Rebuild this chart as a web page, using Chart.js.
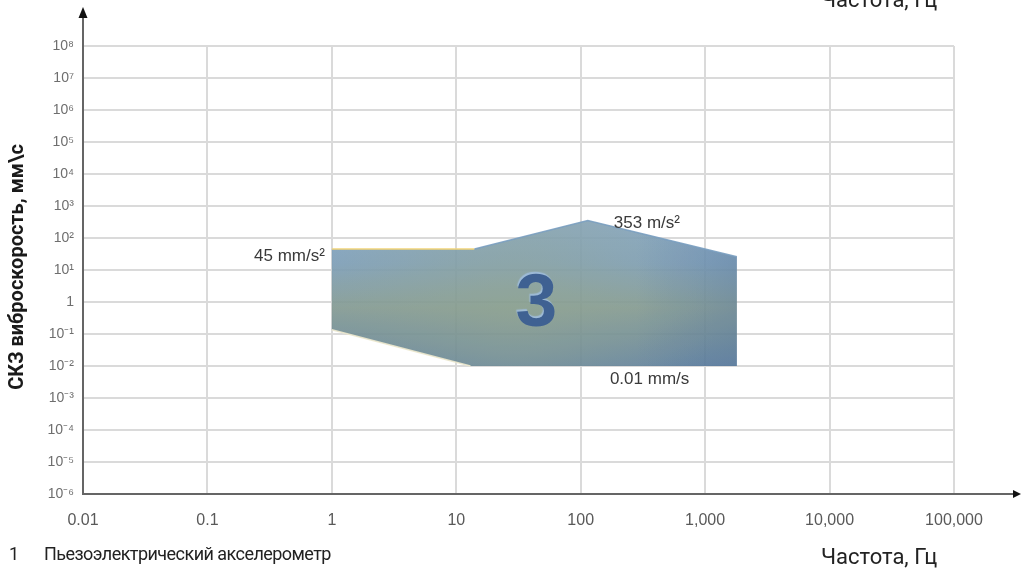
<!DOCTYPE html>
<html lang="ru">
<head>
<meta charset="utf-8">
<title>СКЗ виброскорость — частотный диапазон</title>
<script src="https://cdn.jsdelivr.net/npm/chart.js@4.4.1/dist/chart.umd.min.js"></script>
<style>
  html, body { margin: 0; padding: 0; background: #ffffff; }
  canvas { display: block; }
</style>
</head>
<body>
<canvas id="chart" width="1021" height="571"></canvas>
<script>
// Frequency decades (Hz) and their printed labels
const freqTicks = [0.01, 0.1, 1, 10, 100, 1000, 10000, 100000];
const freqTickLabels = ['0.01', '0.1', '1', '10', '100', '1,000', '10,000', '100,000'];

// Velocity decades (mm/s) and their printed labels
const velTicks = [1e-6, 1e-5, 1e-4, 1e-3, 1e-2, 1e-1, 1, 1e1, 1e2, 1e3, 1e4, 1e5, 1e6, 1e7, 1e8];
const velTickLabels = ['10⁻⁶', '10⁻⁵', '10⁻⁴', '10⁻³', '10⁻²', '10⁻¹', '1',
                       '10¹', '10²', '10³', '10⁴', '10⁵', '10⁶', '10⁷', '10⁸'];

// Upper limit of the measuring range: frequency (Hz) / velocity (mm/s)
const upperFreq = [1, 14, 114, 1800];
const upperVel  = [45, 45, 353, 26];

// Lower limit of the measuring range
const lowerFreq = [1, 13, 1800];
const lowerVel  = [0.136, 0.01, 0.01];

// Limit annotations and zone number
const limitLabels = ['45 mm/s²', '353 m/s²', '0.01 mm/s'];
const zoneLabel = '3';

// Captions
const yTitle = 'СКЗ виброскорость, мм\\с';
const xTitle = 'Частота, Гц';
const sensorNo = '1';
const sensorName = 'Пьезоэлектрический акселерометр';

const SANS = '"Liberation Sans", Arial, sans-serif';
const CAPTION = 'Roboto, "Open Sans", sans-serif';

// Closed outline of the zone: along the upper limit, then back along the lower one
function zoneOutline() {
  const up = upperFreq.map((f, i) => ({ x: f, y: upperVel[i] }));
  const low = lowerFreq.map((f, i) => ({ x: f, y: lowerVel[i] })).reverse();
  return up.concat(low);
}
const EDGE_TOP_FLAT = 0;
const EDGE_TOP_RISE = 1;
const EDGE_TOP_FALL = 2;
const EDGE_LOW_SLOPE = upperFreq.length + lowerFreq.length - 2;

// Shaded fill of the zone: soft blue with a greenish core, darker at the bottom/right
let fillCache = null;
function zoneFill(context) {
  const chart = context.chart;
  const { chartArea, scales } = chart;
  if (!chartArea || !scales.x || !scales.y) return 'rgba(128,155,170,0.9)';
  const key = [chart.width, chart.height, chartArea.left, chartArea.top, chartArea.right, chartArea.bottom].join(',');
  if (fillCache && fillCache.key === key) return fillCache.pattern;

  const sx = scales.x, sy = scales.y;
  const x0 = sx.getPixelForValue(Math.min(...upperFreq));
  const x1 = sx.getPixelForValue(Math.max(...upperFreq));
  const y0 = sy.getPixelForValue(Math.max(...upperVel));
  const y1 = sy.getPixelForValue(Math.min(...lowerVel));

  const off = document.createElement('canvas');
  off.width = chart.width;
  off.height = chart.height;
  const g = off.getContext('2d');

  const lin = g.createLinearGradient(0, y0, 0, y1);
  lin.addColorStop(0.0, '#84a5c3');
  lin.addColorStop(0.3, '#7d9eb9');
  lin.addColorStop(0.6, '#839a93');
  lin.addColorStop(1.0, '#5f80a0');
  g.fillStyle = lin;
  g.fillRect(0, 0, off.width, off.height);

  const cx = x0 + (x1 - x0) * 0.45, cy = y0 + (y1 - y0) * 0.6;
  const rad = g.createRadialGradient(cx, cy, 0, cx, cy, (x1 - x0) * 0.5);
  rad.addColorStop(0, 'rgba(140,160,136,0.55)');
  rad.addColorStop(1, 'rgba(140,160,136,0)');
  g.fillStyle = rad;
  g.fillRect(0, 0, off.width, off.height);

  const side = g.createLinearGradient(x0, 0, x1, 0);
  side.addColorStop(0.0, 'rgba(70,105,145,0)');
  side.addColorStop(0.75, 'rgba(70,105,145,0)');
  side.addColorStop(1.0, 'rgba(70,105,145,0.35)');
  g.fillStyle = side;
  g.fillRect(0, 0, off.width, off.height);

  // slight transparency so the grid shows through
  g.globalCompositeOperation = 'destination-in';
  g.fillStyle = 'rgba(0,0,0,0.93)';
  g.fillRect(0, 0, off.width, off.height);

  const pattern = chart.ctx.createPattern(off, 'no-repeat');
  fillCache = { key, pattern };
  return pattern;
}

function edgeColor(c) {
  const i = c.p0DataIndex;
  if (i === EDGE_TOP_FLAT) return '#f2d47a';
  if (i === EDGE_TOP_RISE || i === EDGE_TOP_FALL) return 'rgba(122,158,192,0.9)';
  if (i === EDGE_LOW_SLOPE) return 'rgba(236,232,205,0.9)';
  return 'rgba(0,0,0,0)';
}

// Axes with arrowheads, limit labels, zone number and captions
const overlayPlugin = {
  id: 'overlay',
  afterDatasetsDraw(chart) {
    const { ctx, chartArea: a, scales: { x, y } } = chart;
    ctx.save();

    // axis lines
    ctx.strokeStyle = '#656565';
    ctx.lineWidth = 2;
    ctx.beginPath();
    ctx.moveTo(a.left, a.bottom + 1);
    ctx.lineTo(a.left, 16);
    ctx.stroke();
    ctx.beginPath();
    ctx.moveTo(a.left - 1, a.bottom);
    ctx.lineTo(chart.width - 6, a.bottom);
    ctx.stroke();

    // arrowheads
    ctx.fillStyle = '#111111';
    ctx.beginPath();
    ctx.moveTo(a.left, 7);
    ctx.lineTo(a.left - 4.5, 18);
    ctx.lineTo(a.left + 4.5, 18);
    ctx.closePath();
    ctx.fill();
    ctx.beginPath();
    ctx.moveTo(chart.width, a.bottom);
    ctx.lineTo(chart.width - 8, a.bottom - 4);
    ctx.lineTo(chart.width - 8, a.bottom + 4);
    ctx.closePath();
    ctx.fill();

    // limit labels
    ctx.font = '17px ' + SANS;
    ctx.fillStyle = '#3a3a3a';
    ctx.textBaseline = 'alphabetic';
    const xl = x.getPixelForValue(upperFreq[0]);
    const yl = y.getPixelForValue(upperVel[0]);
    ctx.textAlign = 'right';
    ctx.fillText(limitLabels[0], xl - 7, yl + 12);

    const xp = x.getPixelForValue(upperFreq[2]);
    const yp = y.getPixelForValue(upperVel[2]);
    ctx.textAlign = 'left';
    ctx.fillText(limitLabels[1], xp + 26, yp + 8);

    const xb = x.getPixelForValue(lowerFreq[2]);
    const yb = y.getPixelForValue(lowerVel[2]);
    ctx.fillText(limitLabels[2], xb - 127, yb + 18);

    // zone number
    const zx = (x.getPixelForValue(upperFreq[0]) + x.getPixelForValue(upperFreq[3])) / 2 + 2;
    const zy = (y.getPixelForValue(upperVel[0]) + y.getPixelForValue(lowerVel[1])) / 2 + 18;
    ctx.font = 'bold 75px ' + SANS;
    ctx.textAlign = 'center';
    ctx.shadowColor = 'rgba(160,190,222,0.9)';
    ctx.shadowOffsetX = -1;
    ctx.shadowOffsetY = -1.5;
    ctx.shadowBlur = 1;
    ctx.fillStyle = '#3f6192';
    ctx.fillText(zoneLabel, zx, zy);
    ctx.shadowColor = 'transparent';

    // y-axis caption
    ctx.save();
    ctx.translate(18, 267);
    ctx.rotate(-Math.PI / 2);
    ctx.font = 'bold 20px ' + CAPTION;
    ctx.fillStyle = '#1a1a1a';
    ctx.textAlign = 'center';
    ctx.textBaseline = 'middle';
    ctx.fillText(yTitle, 0, 0);
    ctx.restore();

    // bottom captions
    ctx.fillStyle = '#222222';
    ctx.textAlign = 'left';
    ctx.textBaseline = 'alphabetic';
    ctx.font = '18px ' + CAPTION;
    ctx.fillText(sensorNo, 9, 560);
    ctx.letterSpacing = '-0.55px';
    ctx.fillText(sensorName, 44, 560);
    ctx.letterSpacing = '0px';
    ctx.font = '22px ' + CAPTION;
    ctx.fillText(xTitle, 821, 564);
    ctx.fillText(xTitle, 821, 7);

    ctx.restore();
  }
};

const gridStyle = { color: '#dadada', lineWidth: 2, drawTicks: false };

new Chart(document.getElementById('chart'), {
  type: 'line',
  data: {
    datasets: [
      {
        // outline strokes, drawn above the fill
        label: 'edges',
        data: zoneOutline(),
        fill: false,
        borderWidth: 1.5,
        pointRadius: 0,
        tension: 0,
        segment: { borderColor: edgeColor }
      },
      {
        label: 'Пьезоэлектрический акселерометр',
        data: zoneOutline(),
        fill: 'shape',
        backgroundColor: zoneFill,
        borderWidth: 0,
        borderColor: 'rgba(0,0,0,0)',
        pointRadius: 0,
        tension: 0
      }
    ]
  },
  options: {
    responsive: false,
    devicePixelRatio: 1,
    animation: false,
    layout: { padding: { left: 0, right: 67, top: 46, bottom: 0 } },
    plugins: {
      legend: { display: false },
      tooltip: { enabled: false },
      title: { display: false }
    },
    scales: {
      x: {
        type: 'logarithmic',
        position: 'bottom',
        min: freqTicks[0],
        max: freqTicks[freqTicks.length - 1],
        afterBuildTicks: s => { s.ticks = freqTicks.map(v => ({ value: v })); },
        afterFit: s => { s.height = 77; },
        grid: gridStyle,
        border: { display: false },
        ticks: {
          autoSkip: false,
          maxRotation: 0,
          padding: 17,
          color: '#595959',
          font: { family: SANS, size: 16 },
          callback: v => freqTickLabels[freqTicks.indexOf(v)]
        }
      },
      y: {
        type: 'logarithmic',
        position: 'left',
        min: velTicks[0],
        max: velTicks[velTicks.length - 1],
        afterBuildTicks: s => { s.ticks = velTicks.map(v => ({ value: v })); },
        afterFit: s => { s.width = 83; },
        grid: gridStyle,
        border: { display: false },
        ticks: {
          autoSkip: false,
          padding: 9,
          color: '#6e6e6e',
          font: { family: SANS, size: 14 },
          callback: v => velTickLabels[velTicks.indexOf(v)]
        }
      }
    }
  },
  plugins: [overlayPlugin]
});
</script>
</body>
</html>
